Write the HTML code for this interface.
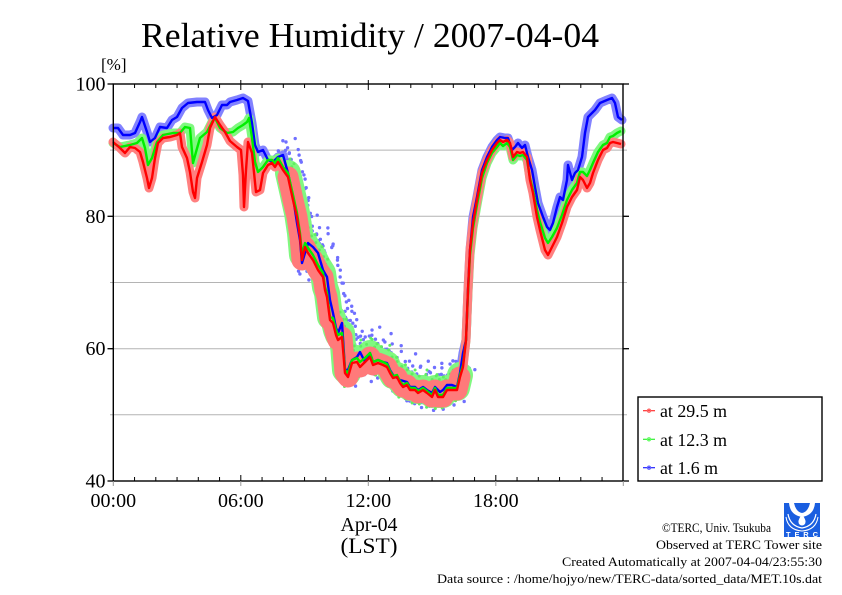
<!DOCTYPE html>
<html>
<head>
<meta charset="utf-8">
<style>
html,body{margin:0;padding:0;background:#fff;}
svg{display:block;}
</style>
</head>
<body>
<svg xmlns="http://www.w3.org/2000/svg" width="842" height="595" viewBox="0 0 842 595" font-family="Liberation Serif, 'DejaVu Serif', serif">
<defs>
<polyline id="bl" points="113,128 118,128 123,135 130,135 135,133 140,122 142,117 147,132 150,142 155,138 160,127 167,128 172,120 177,117 182,108 188,103 197,102 205,102 208,110 212,118 217,115 222,105 227,105 230,102 237,100 243,98 248,101 252,123 255,145 258,152 263,150 268,160 273,162 278,157 283,155 288,173 293,197 297,223 300,240 302,263 305,253 308,243 313,247 318,253 323,270 327,277 330,300 333,313 336,328 338,333 342,323 345,370 348,370 352,360 357,357 360,352 365,362 370,353 373,362 378,360 383,362 387,363 390,370 393,375 400,380 407,382 410,387 415,387 418,390 423,387 427,390 432,393 435,387 440,392 443,390 447,385 452,385 457,387 460,373 463,353 466,340 468,290 470,250 473,217 477,197 482,170 487,157 492,147 497,140 500,137 505,138 508,138 512,150 515,147 518,143 522,148 525,145 528,157 532,170 535,187 538,203 543,217 547,227 550,230 553,223 557,207 560,197 563,200 567,180 568,165 572,180 575,173 578,170 582,157 585,133 588,117 592,113 595,110 600,103 607,100 612,98 615,103 618,117 622,120"/>
<polyline id="gl" points="113,143 120,147 130,145 137,143 142,138 145,148 148,165 152,158 157,142 163,135 173,133 180,133 185,127 190,128 193,163 196,152 200,138 207,132 212,122 215,118 220,128 227,133 233,132 238,128 243,125 247,122 249,118 252,138 255,162 258,172 263,167 268,160 272,160 275,163 278,158 283,167 288,173 293,195 297,213 300,233 302,255 305,243 308,248 313,255 318,265 323,273 325,287 327,293 330,317 333,318 336,330 338,335 342,333 345,370 348,373 352,360 357,358 360,362 365,358 370,353 373,362 378,360 383,362 387,364 390,371 393,376 397,375 400,381 403,385 407,383 410,388 415,388 418,391 423,388 427,391 432,395 435,388 438,395 443,395 447,388 452,388 457,388 460,375 463,365 466,340 468,293 470,255 473,228 477,205 482,178 487,163 492,153 497,147 500,143 503,146 507,143 510,147 513,160 517,155 520,156 523,155 527,160 530,178 533,190 537,210 540,222 545,238 548,243 552,237 557,228 562,215 567,200 572,190 577,183 580,172 583,172 587,176 590,170 593,163 598,152 603,145 607,143 610,137 613,136 617,133 621,131"/>
<polyline id="rl" points="113,142 120,148 125,153 130,147 135,148 140,152 143,162 147,178 149,188 152,178 155,158 158,143 163,138 170,137 177,135 180,133 182,147 187,158 190,172 193,192 195,198 197,178 202,162 207,145 210,128 215,117 220,125 225,132 230,141 237,147 241,150 243,175 244,207 246,170 248,142 252,153 256,192 260,190 263,173 268,165 272,163 275,167 278,162 283,170 288,177 293,200 297,217 300,237 302,260 305,247 308,253 313,260 318,270 323,277 325,290 327,297 330,320 333,323 336,335 338,340 342,337 345,373 348,377 352,363 357,362 360,367 365,362 370,357 373,365 378,363 383,365 387,367 390,373 393,378 397,377 400,383 403,387 407,385 410,390 415,390 418,393 423,390 427,393 432,397 435,390 438,397 443,397 447,390 452,390 457,390 460,377 463,367 466,340 468,290 470,250 473,223 477,200 482,173 487,160 492,150 497,143 500,140 503,142 507,140 510,143 513,157 517,152 520,153 523,152 527,157 530,180 533,193 537,217 540,230 545,250 548,255 552,247 557,237 562,223 567,207 572,197 577,190 580,177 583,180 587,188 590,183 593,173 598,160 603,150 607,148 610,143 613,142 617,143 621,144"/>
<polyline id="ba" points="283,155 288,173 293,197 297,223 300,240 302,263 305,253 308,243 313,247 318,253 323,270 327,277 330,300 333,313 336,328 338,333 342,323 345,370 348,370 352,360 357,357 360,352 365,362 370,353 373,362 378,360 383,362 387,363 390,370 393,375 400,380 407,382 410,387 415,387 418,390 423,387 427,390 432,393 435,387 440,392 443,390 447,385 452,385 457,387 460,373"/>
<polyline id="ga" points="288,173 293,195 297,213 300,233 302,255 305,243 308,248 313,255 318,265 323,273 325,287 327,293 330,317 333,318 336,330 338,335 342,333 345,370 348,373 352,360 357,358 360,362 365,358 370,353 373,362 378,360 383,362 387,364 390,371 393,376 397,375 400,381 403,385 407,383 410,388 415,388 418,391 423,388 427,391 432,395 435,388 438,395 443,395 447,388 452,388 457,388 460,375"/>
<polyline id="ra" points="288,177 293,200 297,217 300,237 302,260 305,247 308,253 313,260 318,270 323,277 325,290 327,297 330,320 333,323 336,335 338,340 342,337 345,373 348,377 352,363 357,362 360,367 365,362 370,357 373,365 378,363 383,365 387,367 390,373 393,378 397,377 400,383 403,387 407,385 410,390 415,390 418,393 423,390 427,393 432,397 435,390 438,397 443,397 447,390 452,390 457,390 460,377"/>
</defs>
<rect x="0" y="0" width="842" height="595" fill="#fff"/>

<!-- Title -->
<text x="370" y="47" font-size="35" text-anchor="middle" textLength="458" lengthAdjust="spacingAndGlyphs">Relative Humidity / 2007-04-04</text>
<text x="101" y="70" font-size="17">[%]</text>

<!-- grid lines -->
<g stroke="#b4b4b4" stroke-width="1">
<line x1="110" y1="150.1" x2="627" y2="150.1"/>
<line x1="110" y1="216.3" x2="627" y2="216.3"/>
<line x1="110" y1="282.5" x2="627" y2="282.5"/>
<line x1="110" y1="348.7" x2="627" y2="348.7"/>
<line x1="110" y1="414.8" x2="627" y2="414.8"/>
</g>

<!-- bands and scatter -->
<g fill="none" stroke-linejoin="round" stroke-linecap="round">
<use href="#bl" stroke="#8282ff" stroke-width="9"/>
<g stroke="#7070ff" stroke-width="3.4">
<use href="#ba" transform="translate(3,-13)" stroke-dasharray="0 6"/>
<use href="#ba" transform="translate(-2,-21)" stroke-dasharray="0 10" stroke-dashoffset="3"/>
<use href="#ba" transform="translate(5,-7)" stroke-dasharray="0 7" stroke-dashoffset="2"/>
<use href="#ba" transform="translate(9,-28)" stroke-dasharray="0 17" stroke-dashoffset="5"/>
<use href="#ba" transform="translate(-3,14)" stroke-dasharray="0 9" stroke-dashoffset="4"/>
<use href="#ba" transform="translate(6,20)" stroke-dasharray="0 15" stroke-dashoffset="7"/>
<use href="#ba" transform="translate(12,-17)" stroke-dasharray="0 13" stroke-dashoffset="1"/>
<use href="#ba" transform="translate(-6,-9)" stroke-dasharray="0 11" stroke-dashoffset="6"/>
<use href="#ba" transform="translate(15,-4)" stroke-dasharray="0 19" stroke-dashoffset="9"/>
</g>
<use href="#gl" stroke="#80f880" stroke-width="9"/>
<use href="#ga" stroke="#80f880" stroke-width="26"/>
<g stroke="#60ee60" stroke-width="3">
<use href="#ga" transform="translate(2,-14)" stroke-dasharray="0 8"/>
<use href="#ga" transform="translate(-2,15)" stroke-dasharray="0 9" stroke-dashoffset="3"/>
<use href="#ga" transform="translate(4,-18)" stroke-dasharray="0 14" stroke-dashoffset="5"/>
</g>
<use href="#rl" stroke="#ff8080" stroke-width="9"/>
<use href="#ra" stroke="#ff7a7a" stroke-width="21"/>
</g>

<!-- lines -->
<g fill="none" stroke-linejoin="round" stroke-width="2.4">
<use href="#bl" stroke="#0000ff"/>
<use href="#gl" stroke="#00ee00"/>
<use href="#rl" stroke="#ff0000"/>
</g>

<!-- axes frame -->
<rect x="113.3" y="84" width="509.7" height="397" fill="none" stroke="#000" stroke-width="1.4"/>
<g stroke="#000" stroke-width="1.3">
<line x1="107.5" y1="84" x2="113.3" y2="84"/>
<line x1="107.5" y1="216.3" x2="113.3" y2="216.3"/>
<line x1="107.5" y1="348.7" x2="113.3" y2="348.7"/>
<line x1="107.5" y1="481" x2="113.3" y2="481"/>
<line x1="623" y1="84" x2="629" y2="84"/>
<line x1="623" y1="216.3" x2="629" y2="216.3"/>
<line x1="623" y1="348.7" x2="629" y2="348.7"/>
<line x1="623" y1="481" x2="629" y2="481"/>
</g>
<path stroke="#000" stroke-width="1" fill="none" d="M134.55 481v-4M155.8 481v-4M177.05 481v-4M198.3 481v-4M219.55 481v-4M262.05 481v-4M283.3 481v-4M304.55 481v-4M325.8 481v-4M347.05 481v-4M389.55 481v-4M410.8 481v-4M432.05 481v-4M453.3 481v-4M474.55 481v-4M517.05 481v-4M538.3 481v-4M559.55 481v-4M580.8 481v-4M602.05 481v-4M240.8 481v-6M368.3 481v-6M495.8 481v-6
M134.55 84v4M155.8 84v4M177.05 84v4M198.3 84v4M219.55 84v4M262.05 84v4M283.3 84v4M304.55 84v4M325.8 84v4M347.05 84v4M389.55 84v4M410.8 84v4M432.05 84v4M453.3 84v4M474.55 84v4M517.05 84v4M538.3 84v4M559.55 84v4M580.8 84v4M602.05 84v4M240.8 84v6M368.3 84v6M495.8 84v6M240.8 84v-4M368.3 84v-4M495.8 84v-4"/>
<path stroke="#999" stroke-width="1" fill="none" d="M113.3 481v5M240.8 481v5M368.3 481v5M495.8 481v5M623.3 481v5"/>

<!-- y labels -->
<g font-size="20" text-anchor="end">
<text x="105.5" y="90.5">100</text>
<text x="105.5" y="223">80</text>
<text x="105.5" y="355">60</text>
<text x="105.5" y="487.5">40</text>
</g>
<!-- x labels -->
<g font-size="20" text-anchor="middle">
<text x="113.3" y="507">00:00</text>
<text x="240.8" y="507">06:00</text>
<text x="368.3" y="507">12:00</text>
<text x="495.8" y="507">18:00</text>
<text x="369" y="531" textLength="57" lengthAdjust="spacingAndGlyphs">Apr-04</text>
<text x="369" y="553" font-size="22" textLength="57" lengthAdjust="spacingAndGlyphs">(LST)</text>
</g>

<!-- legend -->
<rect x="638" y="397" width="184" height="84" fill="#fff" stroke="#000" stroke-width="1.4"/>
<g stroke-width="1.2">
<line x1="643" y1="410.7" x2="655" y2="410.7" stroke="#ff3030"/>
<circle cx="649" cy="410.7" r="1.6" fill="none" stroke="#ff6060"/>
<line x1="643" y1="439.3" x2="655" y2="439.3" stroke="#30ee30"/>
<circle cx="649" cy="439.3" r="1.6" fill="none" stroke="#60ff60"/>
<line x1="643" y1="467.7" x2="655" y2="467.7" stroke="#2020ff"/>
<circle cx="649" cy="467.7" r="1.6" fill="none" stroke="#6060ff"/>
</g>
<g font-size="18">
<text x="660" y="417" textLength="67" lengthAdjust="spacingAndGlyphs">at 29.5 m</text>
<text x="660" y="446" textLength="67" lengthAdjust="spacingAndGlyphs">at 12.3 m</text>
<text x="660" y="474" textLength="58" lengthAdjust="spacingAndGlyphs">at 1.6 m</text>
</g>

<!-- footer -->
<g font-size="12.5" text-anchor="end">
<text x="771" y="532" textLength="109" lengthAdjust="spacingAndGlyphs">©TERC, Univ. Tsukuba</text>
<text x="822" y="549" textLength="166" lengthAdjust="spacingAndGlyphs">Observed at TERC Tower site</text>
<text x="822" y="566" textLength="260" lengthAdjust="spacingAndGlyphs">Created Automatically at 2007-04-04/23:55:30</text>
<text x="822" y="583" textLength="385" lengthAdjust="spacingAndGlyphs">Data source : /home/hojyo/new/TERC-data/sorted_data/MET.10s.dat</text>
</g>

<!-- logo -->
<g>
<rect x="784" y="503" width="36" height="34" fill="#1a5ee0"/>
<path d="M789 503 Q790 515 802 517 Q814 515 815 503 Z" fill="#fff"/>
<path d="M794 503 Q796 512 802 513 Q808 512 810 503 Z" fill="#1a5ee0"/>
<path d="M802 514 Q798 520 798.5 522 A3.5 3.5 0 0 0 805.5 522 Q806 520 802 514 Z" fill="#fff"/>
<path d="M788 514 Q790 526 802 528 Q814 526 816 514" fill="none" stroke="#fff" stroke-width="1.2"/>
<path d="M786 517 Q788 530 802 531 Q816 530 818 517" fill="none" stroke="#fff" stroke-width="1"/>
<text x="802" y="537" font-family="Liberation Sans, sans-serif" font-size="7.5" font-weight="bold" fill="#fff" text-anchor="middle" textLength="32" lengthAdjust="spacing">TERC</text>
</g>
</svg>
</body>
</html>
